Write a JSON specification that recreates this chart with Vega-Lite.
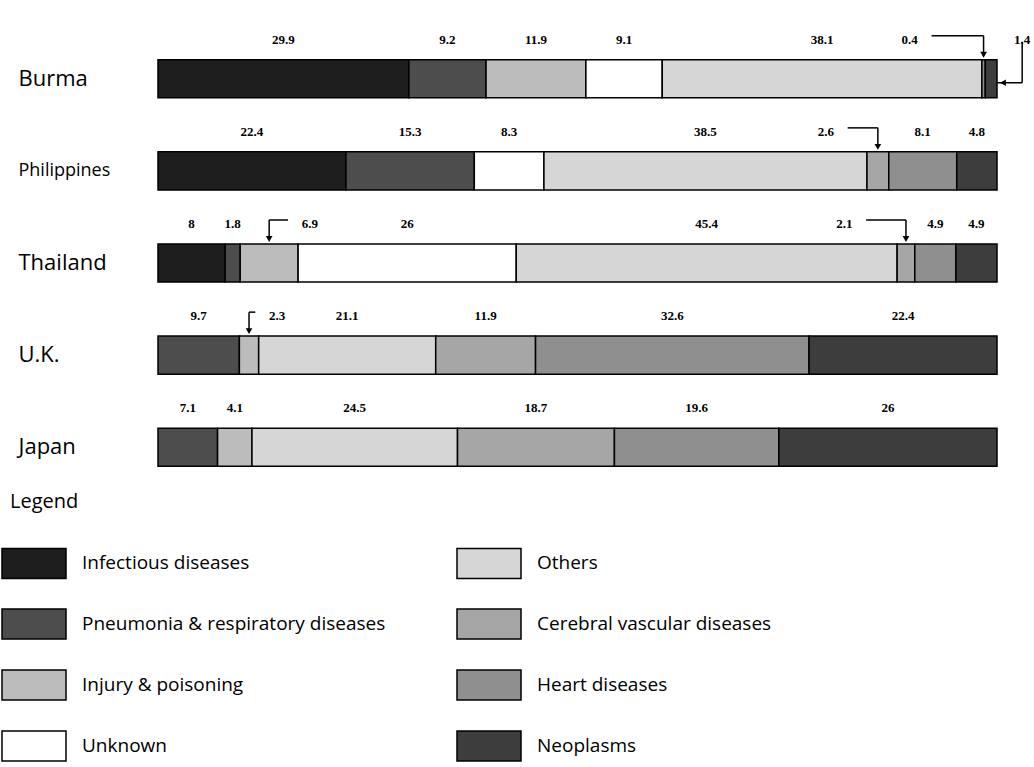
{
  "$schema": "https://vega.github.io/schema/vega-lite/v6.json",
  "width": 839,
  "height": 460,
  "autosize": {"type": "none"},
  "padding": {"left": 158, "top": 33, "right": 37, "bottom": 274},
  "background": "white",
  "config": {"view": {"stroke": null}},
  "datasets": {
    "causes": [
      {"country": "Burma", "cause": "Infectious diseases", "pct": 29.9},
      {"country": "Burma", "cause": "Pneumonia & respiratory diseases", "pct": 9.2},
      {"country": "Burma", "cause": "Injury & poisoning", "pct": 11.9},
      {"country": "Burma", "cause": "Unknown", "pct": 9.1},
      {"country": "Burma", "cause": "Others", "pct": 38.1},
      {"country": "Burma", "cause": "Heart diseases", "pct": 0.4},
      {"country": "Burma", "cause": "Neoplasms", "pct": 1.4},
      {"country": "Philippines", "cause": "Infectious diseases", "pct": 22.4},
      {"country": "Philippines", "cause": "Pneumonia & respiratory diseases", "pct": 15.3},
      {"country": "Philippines", "cause": "Unknown", "pct": 8.3},
      {"country": "Philippines", "cause": "Others", "pct": 38.5},
      {"country": "Philippines", "cause": "Cerebral vascular diseases", "pct": 2.6},
      {"country": "Philippines", "cause": "Heart diseases", "pct": 8.1},
      {"country": "Philippines", "cause": "Neoplasms", "pct": 4.8},
      {"country": "Thailand", "cause": "Infectious diseases", "pct": 8},
      {"country": "Thailand", "cause": "Pneumonia & respiratory diseases", "pct": 1.8},
      {"country": "Thailand", "cause": "Injury & poisoning", "pct": 6.9},
      {"country": "Thailand", "cause": "Unknown", "pct": 26},
      {"country": "Thailand", "cause": "Others", "pct": 45.4},
      {"country": "Thailand", "cause": "Cerebral vascular diseases", "pct": 2.1},
      {"country": "Thailand", "cause": "Heart diseases", "pct": 4.9},
      {"country": "Thailand", "cause": "Neoplasms", "pct": 4.9},
      {"country": "U.K.", "cause": "Pneumonia & respiratory diseases", "pct": 9.7},
      {"country": "U.K.", "cause": "Injury & poisoning", "pct": 2.3},
      {"country": "U.K.", "cause": "Others", "pct": 21.1},
      {"country": "U.K.", "cause": "Cerebral vascular diseases", "pct": 11.9},
      {"country": "U.K.", "cause": "Heart diseases", "pct": 32.6},
      {"country": "U.K.", "cause": "Neoplasms", "pct": 22.4},
      {"country": "Japan", "cause": "Pneumonia & respiratory diseases", "pct": 7.1},
      {"country": "Japan", "cause": "Injury & poisoning", "pct": 4.1},
      {"country": "Japan", "cause": "Others", "pct": 24.5},
      {"country": "Japan", "cause": "Cerebral vascular diseases", "pct": 18.7},
      {"country": "Japan", "cause": "Heart diseases", "pct": 19.6},
      {"country": "Japan", "cause": "Neoplasms", "pct": 26}
    ],
    "callouts": [
      {"key": "Burma|Heart diseases", "label_pct": 89.6, "kind": "top"},
      {"key": "Burma|Neoplasms", "label_pct": 103, "kind": "side"},
      {"key": "Philippines|Cerebral vascular diseases", "label_pct": 79.6, "kind": "top"},
      {"key": "Thailand|Injury & poisoning", "label_pct": 18.1, "kind": "top"},
      {"key": "Thailand|Cerebral vascular diseases", "label_pct": 81.8, "kind": "top"},
      {"key": "U.K.|Injury & poisoning", "label_pct": 14.2, "kind": "top"}
    ]
  },
  "data": {"name": "causes"},
  "transform": [
    {"calculate": "indexof(['Infectious diseases','Pneumonia & respiratory diseases','Injury & poisoning','Unknown','Others','Cerebral vascular diseases','Heart diseases','Neoplasms'], datum.cause)", "as": "rank"},
    {"stack": "pct", "groupby": ["country"], "sort": [{"field": "rank", "order": "ascending"}], "as": ["x0", "x1"]},
    {"calculate": "(datum.x0 + datum.x1) / 2", "as": "mid"},
    {"calculate": "datum.country + '|' + datum.cause", "as": "key"},
    {"lookup": "key", "from": {"data": {"name": "callouts"}, "key": "key", "fields": ["label_pct", "kind"]}},
    {"calculate": "isValid(datum.label_pct) ? datum.label_pct : datum.mid", "as": "lx"},
    {"calculate": "isValid(datum.label_pct) ? (datum.label_pct < datum.mid ? datum.label_pct + 2.6 : datum.label_pct - 2.6) : datum.mid", "as": "ax"}
  ],
  "layer": [
    {
      "mark": {"type": "bar", "stroke": "black", "strokeWidth": 1.5},
      "encoding": {
        "x": {"field": "x0", "type": "quantitative", "scale": {"domain": [0, 100], "nice": false}, "axis": null},
        "x2": {"field": "x1"},
        "y": {
          "field": "country", "type": "nominal", "title": null,
          "scale": {"domain": ["Burma", "Philippines", "Thailand", "U.K.", "Japan"], "paddingInner": 0.587, "paddingOuter": 0.29},
          "axis": {
            "domain": false, "ticks": false, "labelAlign": "left", "labelPadding": 140,
            "labelFont": "Open Sans", "labelColor": "black", "labelBaseline": "middle",
            "labelFontSize": {"condition": {"test": "datum.value == 'Philippines'", "value": 18}, "value": 22}
          }
        },
        "color": {
          "field": "cause", "type": "nominal",
          "scale": {
            "domain": ["Infectious diseases", "Pneumonia & respiratory diseases", "Injury & poisoning", "Unknown", "Others", "Cerebral vascular diseases", "Heart diseases", "Neoplasms"],
            "range": ["#1e1e1e", "#4d4d4d", "#bcbcbc", "#ffffff", "#d6d6d6", "#a6a6a6", "#8f8f8f", "#3d3d3d"]
          },
          "legend": {
            "title": "Legend", "orient": "none", "legendX": -148, "legendY": 459,
            "columns": 2, "padding": 0,
            "symbolType": "M-2,-0.94H2V0.94H-2Z", "symbolSize": 1024,
            "symbolStrokeColor": "black", "symbolStrokeWidth": 1.5, "symbolOffset": 7,
            "labelFont": "Open Sans", "labelFontSize": 19, "labelColor": "black", "labelOffset": 31, "labelLimit": 600,
            "titleFont": "Open Sans", "titleFontSize": 20, "titleFontWeight": "normal", "titleColor": "black", "titlePadding": 34,
            "rowPadding": 23, "columnPadding": 68
          }
        }
      }
    },
    {
      "mark": {"type": "text", "font": "Liberation Serif", "fontWeight": "bold", "fontSize": 13, "dy": -39, "color": "black"},
      "encoding": {
        "x": {"field": "lx", "type": "quantitative", "scale": {"domain": [0, 100], "nice": false}},
        "y": {"field": "country", "type": "nominal", "title": null},
        "text": {"field": "pct", "type": "quantitative", "format": ".1~f"}
      }
    },
    {
      "transform": [{"filter": "datum.kind == 'top'"}],
      "mark": {"type": "rule", "color": "black", "strokeWidth": 1.5, "yOffset": -43},
      "encoding": {
        "x": {"field": "ax", "type": "quantitative", "scale": {"domain": [0, 100], "nice": false}},
        "x2": {"field": "mid"},
        "y": {"field": "country", "type": "nominal", "title": null}
      }
    },
    {
      "transform": [{"filter": "datum.kind == 'top'"}],
      "mark": {"type": "tick", "orient": "vertical", "color": "black", "opacity": 1, "thickness": 1.5, "size": 20, "yOffset": -33},
      "encoding": {
        "x": {"field": "mid", "type": "quantitative", "scale": {"domain": [0, 100], "nice": false}},
        "y": {"field": "country", "type": "nominal", "title": null}
      }
    },
    {
      "transform": [{"filter": "datum.kind == 'top'"}],
      "mark": {"type": "point", "shape": "triangle-down", "filled": true, "color": "black", "opacity": 1, "size": 45, "yOffset": -24},
      "encoding": {
        "x": {"field": "mid", "type": "quantitative", "scale": {"domain": [0, 100], "nice": false}},
        "y": {"field": "country", "type": "nominal", "title": null}
      }
    },
    {
      "transform": [{"filter": "datum.kind == 'side'"}],
      "mark": {"type": "tick", "orient": "vertical", "color": "black", "opacity": 1, "thickness": 1.5, "size": 41, "yOffset": -16.5},
      "encoding": {
        "x": {"field": "label_pct", "type": "quantitative", "scale": {"domain": [0, 100], "nice": false}},
        "y": {"field": "country", "type": "nominal", "title": null}
      }
    },
    {
      "transform": [{"filter": "datum.kind == 'side'"}],
      "mark": {"type": "rule", "color": "black", "strokeWidth": 1.5, "yOffset": 4},
      "encoding": {
        "x": {"field": "label_pct", "type": "quantitative", "scale": {"domain": [0, 100], "nice": false}},
        "x2": {"field": "x1"},
        "y": {"field": "country", "type": "nominal", "title": null}
      }
    },
    {
      "transform": [{"filter": "datum.kind == 'side'"}],
      "mark": {"type": "point", "shape": "triangle-left", "filled": true, "color": "black", "opacity": 1, "size": 45, "yOffset": 4, "xOffset": 6},
      "encoding": {
        "x": {"field": "x1", "type": "quantitative", "scale": {"domain": [0, 100], "nice": false}},
        "y": {"field": "country", "type": "nominal", "title": null}
      }
    }
  ]
}
